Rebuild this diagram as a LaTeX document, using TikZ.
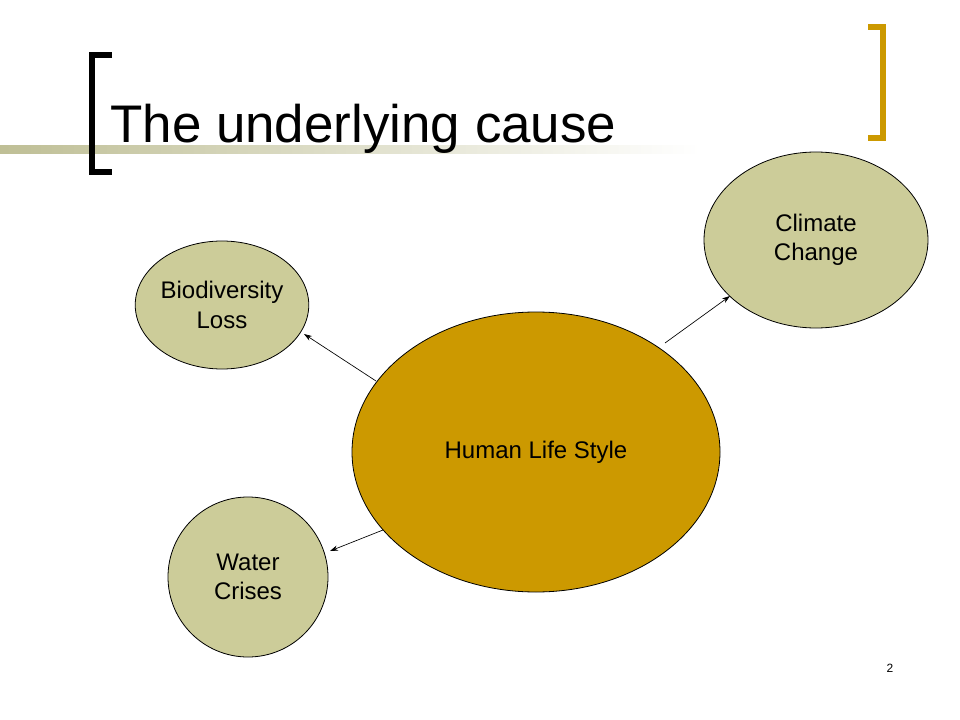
\documentclass[tikz,border=0pt]{standalone}
\usepackage{fontspec}
\setmainfont{Liberation Sans}
\usetikzlibrary{shapes.geometric,arrows.meta}
\definecolor{khaki}{HTML}{CCCC99}
\definecolor{gold}{HTML}{CC9900}
\tikzset{blob/.style={ellipse,draw=black,line width=0.6pt,inner sep=0pt,align=center,font=\fontsize{18}{22}\selectfont},
arr/.style={-{Stealth[length=6pt,width=4pt]},line width=0.5pt}}
\begin{document}
\begin{tikzpicture}[x=0.75pt,y=-0.75pt]
\useasboundingbox (0,0) rectangle (960,720);
\shade[left color=khaki!90!black!90, right color=white] (0,146) rectangle (700,154);
\draw[line width=4.5pt] (112,55) -- (92,55) -- (92,172) -- (112,172);
\draw[gold,line width=4.5pt] (868,27) -- (883,27) -- (883,138) -- (868,138);
\node[anchor=base west,font=\fontsize{39.7}{44}\selectfont,inner sep=0pt] (title) at (110,143) {The underlying cause};
\node[blob,fill=khaki,minimum width=168pt,minimum height=132pt] (cc) at (816,240) {Climate\\Change};
\node[blob,fill=khaki,minimum width=117pt,minimum height=96pt] (bl) at (222,305) {Biodiversity\\ Loss};
\node[blob,fill=khaki,minimum width=120pt,minimum height=120pt] (wc) at (248,577) {Water\\Crises};
\node[blob,fill=gold,minimum width=276pt,minimum height=210pt] (h) at (536,452) {Human Life Style};
\coordinate (a1) at (665,343); \coordinate (b1) at (730,296);
\coordinate (a2) at (376,381); \coordinate (b2) at (304,334);
\coordinate (a3) at (383,530); \coordinate (b3) at (330,551);
\draw[arr] (a1) -- (b1);
\draw[arr] (a2) -- (b2);
\draw[arr] (a3) -- (b3);
\node[font=\fontsize{9}{11}\selectfont] (pg) at (890,668) {2};
\end{tikzpicture}
\end{document}
